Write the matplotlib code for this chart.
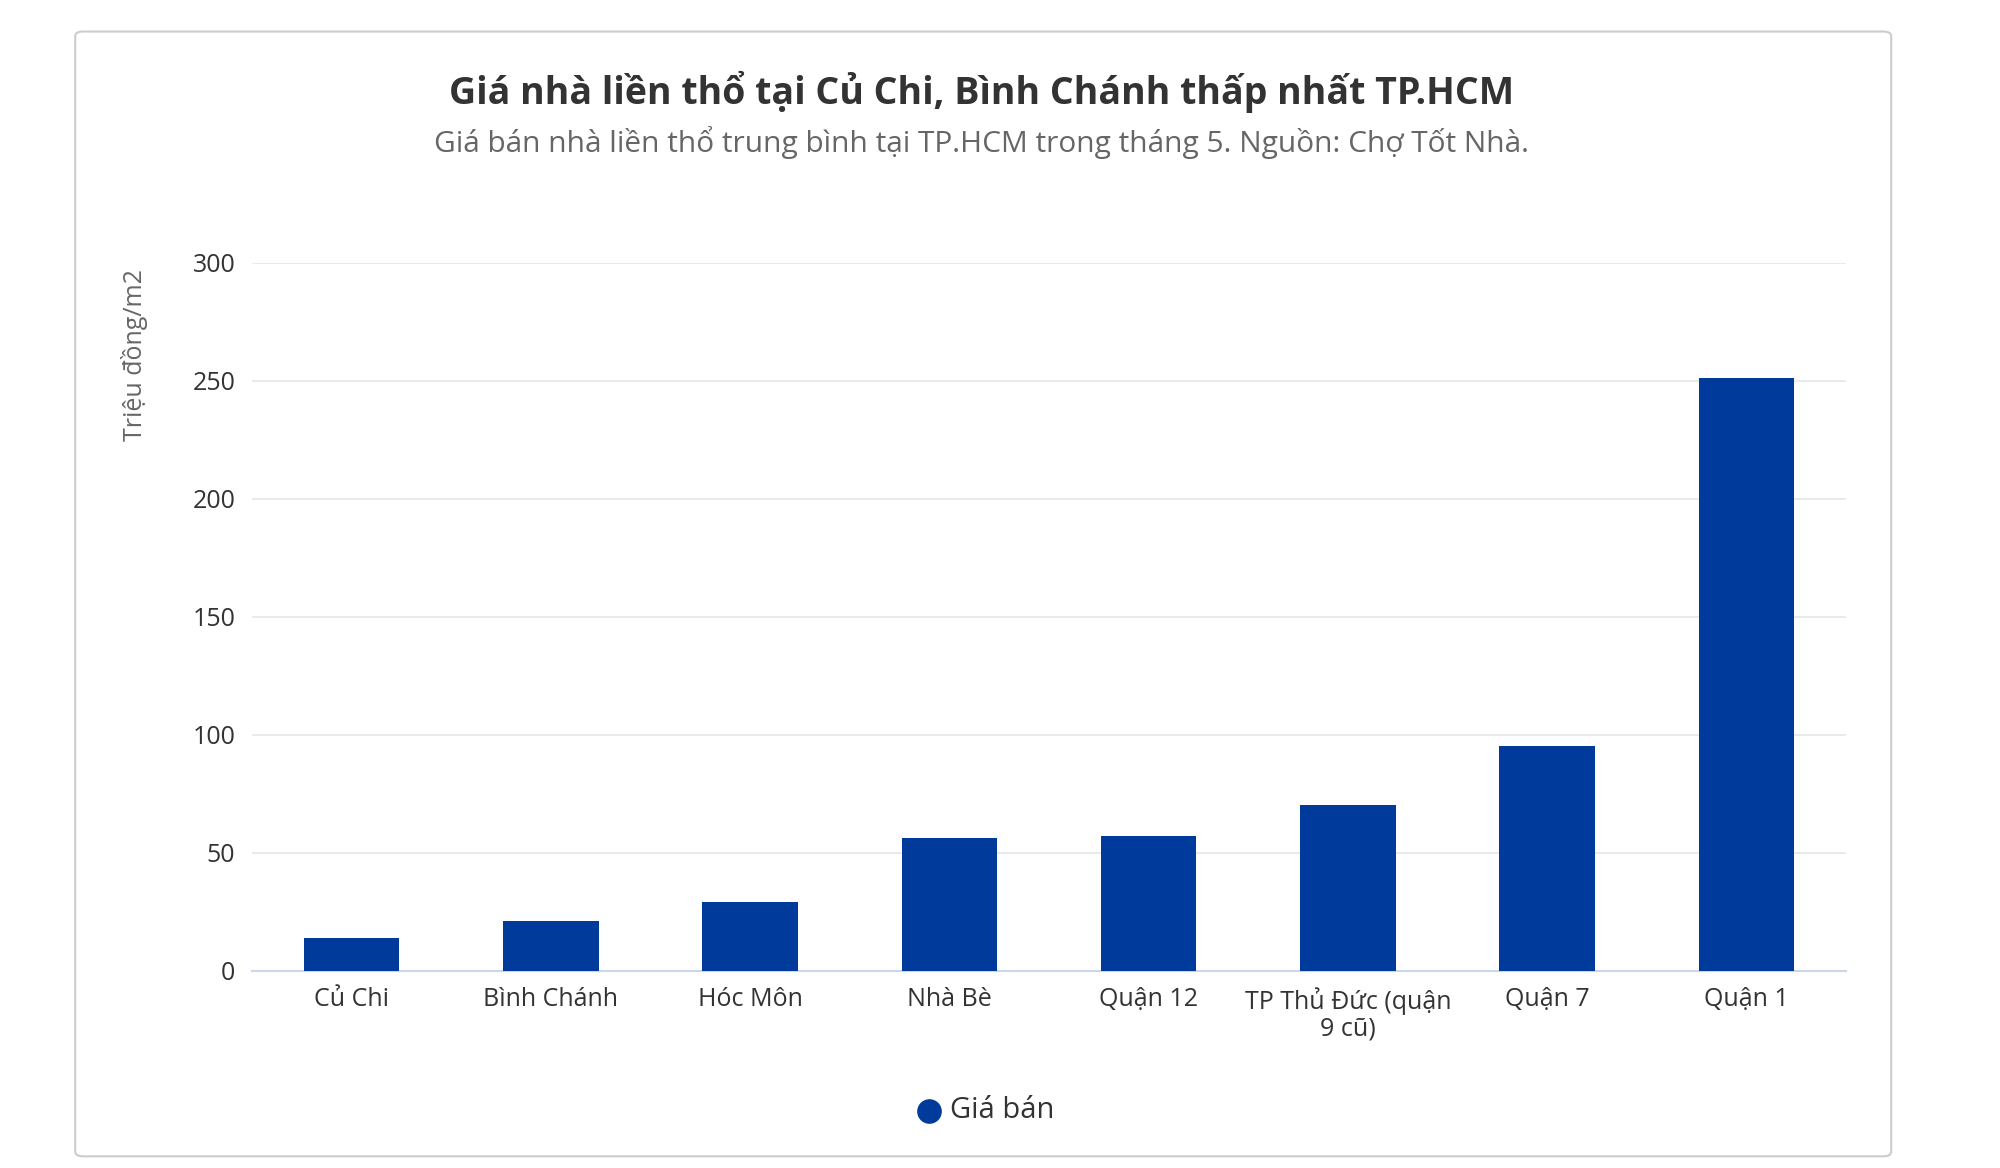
import matplotlib
matplotlib.use("Agg")
import matplotlib.pyplot as plt
from matplotlib.patches import FancyBboxPatch

categories = ["Củ Chi", "Bình Chánh", "Hóc Môn", "Nhà Bè", "Quận 12", "TP Thủ Đức (quận\n9 cũ)", "Quận 7", "Quận 1"]
values = [14, 21, 29, 56, 57, 70, 95, 251]
yticks = [0, 50, 100, 150, 200, 250, 300]

plt.rcParams['font.family'] = ['Open Sans', 'DejaVu Sans']
fig = plt.figure(figsize=(20, 11.68), dpi=100)
fig.patch.set_facecolor("white")
card = FancyBboxPatch((0.0376, 0.01), 0.908, 0.963, boxstyle="round,pad=0,rounding_size=0.004",
                      transform=fig.transFigure, facecolor="white", edgecolor="#cccccc", lw=1.5, zorder=-10)
fig.patches.append(card)

ax = fig.add_axes([0.126, 0.169, 0.797, 0.606])
ax.set_facecolor("none")
color = "#003a9b"
ax.bar(range(len(values)), values, width=0.48, color=color, zorder=3)
ax.set_ylim(0, 300)
ax.set_xlim(-0.5, len(values) - 0.5)
ax.set_yticks(yticks)
ax.set_yticklabels([str(t) for t in yticks], fontsize=18, color="#333333")
ax.set_xticks(range(len(values)))
ax.set_xticklabels(categories, fontsize=18, color="#333333", linespacing=1.1)
ax.tick_params(axis='both', length=0, pad=12)
ax.grid(axis='y', color="#e6e6e6", lw=1.2, zorder=0)
for s in ["top", "right", "left"]:
    ax.spines[s].set_visible(False)
ax.spines["bottom"].set_color("#ccd6eb")
ax.spines["bottom"].set_linewidth(1.5)

fig.text(0.067, 0.696, "Triệu đồng/m2", rotation=90, ha="center", va="center", fontsize=18, color="#666666")
fig.text(0.491, 0.921, "Giá nhà liền thổ tại Củ Chi, Bình Chánh thấp nhất TP.HCM", ha="center", va="center",
         fontsize=27, fontweight="bold", color="#333333")
fig.text(0.491, 0.878, "Giá bán nhà liền thổ trung bình tại TP.HCM trong tháng 5. Nguồn: Chợ Tốt Nhà.", ha="center",
         va="center", fontsize=21.5, color="#666666")
lx = fig.add_axes([0.0, 0.0, 1, 1], facecolor="none")
lx.set_axis_off()
lx.set_xlim(0, 1); lx.set_ylim(0, 1)
lx.scatter([0.4645], [0.049], s=280, color=color)
lx.text(0.475, 0.049, "Giá bán", ha="left", va="center", fontsize=21, color="#333333")
fig.savefig("out.png", dpi=100)
